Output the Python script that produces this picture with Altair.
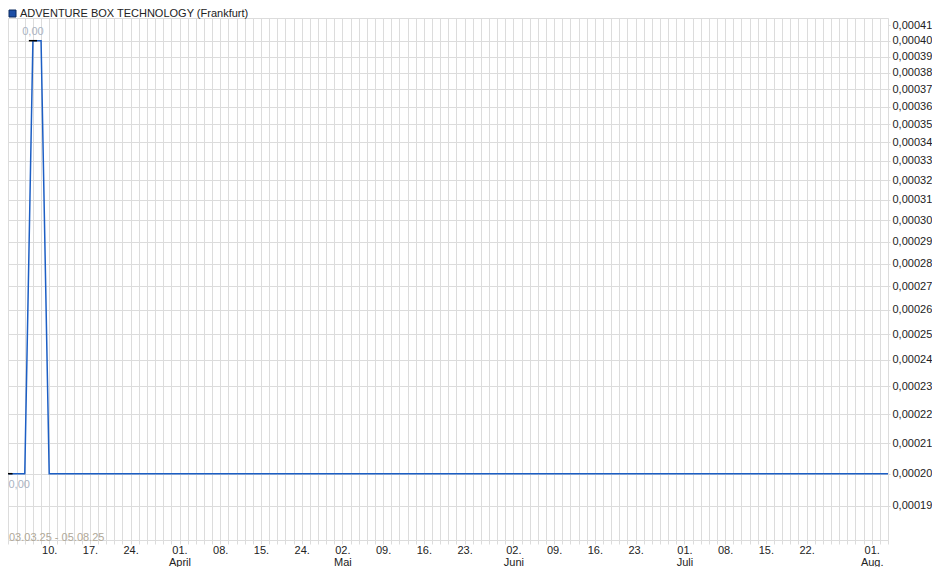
import altair as alt
import pandas as pd

TITLE = "ADVENTURE BOX TECHNOLOGY (Frankfurt)"
RANGE_TEXT = "03.03.25 - 05.08.25"

# trading calendar (Frankfurt): weekdays minus exchange holidays
START, END = "2025-03-03", "2025-08-05"
HOLIDAYS = ["2025-04-18", "2025-04-21", "2025-05-01"]

# price series (vertices)
PRICE_DATES = ["2025-03-03", "2025-03-04", "2025-03-05", "2025-03-06",
               "2025-03-07", "2025-03-10", "2025-08-05"]
PRICES = [0.00020, 0.00020, 0.00020, 0.00040, 0.00040, 0.00020, 0.00020]

# high / low markers
HIGH_DATE, HIGH_VALUE, HIGH_LABEL = "2025-03-06", 0.00040, "0,00"
LOW_DATE, LOW_VALUE, LOW_LABEL = "2025-03-03", 0.00020, "0,00"

# x axis labels
X_LABEL_DATES = ["2025-03-10", "2025-03-17", "2025-03-24", "2025-04-01", "2025-04-08",
                 "2025-04-15", "2025-04-24", "2025-05-02", "2025-05-09", "2025-05-16",
                 "2025-05-23", "2025-06-02", "2025-06-09", "2025-06-16", "2025-06-23",
                 "2025-07-01", "2025-07-08", "2025-07-15", "2025-07-22", "2025-08-01"]
X_LABELS = ["10.", "17.", "24.", "01.|April", "08.", "15.", "24.", "02.|Mai", "09.", "16.",
            "23.", "02.|Juni", "09.", "16.", "23.", "01.|Juli", "08.", "15.", "22.", "01.|Aug."]

# y axis ticks (log scale)
Y_TICKS = [0.00019, 0.00020, 0.00021, 0.00022, 0.00023, 0.00024, 0.00025, 0.00026,
           0.00027, 0.00028, 0.00029, 0.00030, 0.00031, 0.00032, 0.00033, 0.00034,
           0.00035, 0.00036, 0.00037, 0.00038, 0.00039, 0.00040, 0.00041]
Y_DOMAIN = [0.00017986, 0.0004148]

FONT = "Liberation Sans"
GRID = "#dcdcdc"
LINE_BLUE = "#1c5ec4"

days = [d.strftime("%Y-%m-%d") for d in pd.bdate_range(START, END)
        if d.strftime("%Y-%m-%d") not in HOLIDAYS]
idx = {d: i for i, d in enumerate(days)}

price_df = pd.DataFrame({"i": [idx[d] for d in PRICE_DATES], "price": PRICES})
marks_df = pd.DataFrame({
    "i": [idx[HIGH_DATE], idx[LOW_DATE]],
    "price": [HIGH_VALUE, LOW_VALUE],
    "label": [HIGH_LABEL, LOW_LABEL],
    "kind": ["high", "low"],
})
marks_df["i0"] = marks_df["i"] - 0.5
marks_df["i1"] = marks_df["i"] + 0.5

# label expression
parts = []
for d, lab in zip(X_LABEL_DATES, X_LABELS):
    if "|" in lab:
        a, b = lab.split("|")
        txt = f"['{a}', '{b}']"
    else:
        txt = f"'{lab}'"
    parts.append(f"datum.value == {idx[d]} ? {txt} : ")
x_label_expr = "".join(parts) + "''"

W, H = 880, 522

xscale = alt.Scale(domain=[-0.06, len(days) - 1], nice=False, zero=False)
yscale = alt.Scale(type="log", domain=Y_DOMAIN, nice=False, zero=False)

xaxis = alt.Axis(
    values=list(range(len(days))), tickCount=500, labelExpr=x_label_expr, title=None,
    grid=True, gridColor=GRID, gridWidth=1, domain=False,
    ticks=True, tickSize=4, tickColor=GRID,
    labelFont=FONT, labelFontSize=11, labelColor="#222222",
    labelPadding=0, labelOverlap=False, labelFlush=False, labelBound=False,
    labelBaseline="top", labelLineHeight=12,
)
yaxis = alt.Axis(
    orient="right", values=Y_TICKS, tickCount=100, title=None,
    labelExpr="replace(format(datum.value, '.5f'), '.', ',')",
    grid=True,
    gridColor={"condition": {"test": "datum.value > 0.000405", "value": "transparent"},
               "value": GRID},
    gridWidth=1, domain=False,
    ticks=True, tickSize=2, tickColor=GRID,
    labelFont=FONT, labelFontSize=11, labelColor="#222222",
    labelPadding=2, labelOverlap=False, labelFlush=False, labelBound=False,
)

line = alt.Chart(price_df).mark_line(color=LINE_BLUE, strokeWidth=1.5).encode(
    x=alt.X("i:Q", scale=xscale, axis=xaxis),
    y=alt.Y("price:Q", scale=yscale, axis=yaxis),
)

rules = alt.Chart(marks_df).mark_rule(color="#000000", strokeWidth=1.5).encode(
    x=alt.X("i0:Q", scale=xscale),
    x2="i1:Q",
    y=alt.Y("price:Q", scale=yscale),
)

high_txt = alt.Chart(marks_df).transform_filter("datum.kind == 'high'").mark_text(
    font=FONT, fontSize=11, color="#a9b3c2", align="center", baseline="middle", dy=-9
).encode(x=alt.X("i:Q", scale=xscale), y=alt.Y("price:Q", scale=yscale), text="label:N")

low_txt = alt.Chart(marks_df).transform_filter("datum.kind == 'low'").mark_text(
    font=FONT, fontSize=11, color="#a9b3c2", align="left", baseline="middle", dx=0, dy=11
).encode(x=alt.X("i:Q", scale=xscale), y=alt.Y("price:Q", scale=yscale), text="label:N")

one = pd.DataFrame({"k": [0]})
range_txt = alt.Chart(one).mark_text(
    font=FONT, fontSize=11, color="#b0a898", align="left", baseline="middle"
).encode(x=alt.value(1), y=alt.value(H - 2), text=alt.value(RANGE_TEXT))

title_sq = alt.Chart(one).mark_square(
    size=49, fill="#1d4fa6", stroke="#0d2a5c", strokeWidth=1, opacity=1
).encode(x=alt.value(4.5), y=alt.value(-4.5))
title_txt = alt.Chart(one).mark_text(
    font=FONT, fontSize=11, color="#222222", align="left", baseline="middle"
).encode(x=alt.value(12), y=alt.value(-4.5), text=alt.value(TITLE))

chart = alt.layer(line, rules, high_txt, low_txt, range_txt, title_sq, title_txt).properties(
    width=W, height=H,
    autosize=alt.AutoSizeParams(type="none"),
    padding={"left": 0, "top": 10, "right": 44, "bottom": 27},
    background="white",
).configure_view(stroke=GRID, strokeWidth=1)

chart.save("out.html", embed_options={"renderer": "svg", "actions": False})
